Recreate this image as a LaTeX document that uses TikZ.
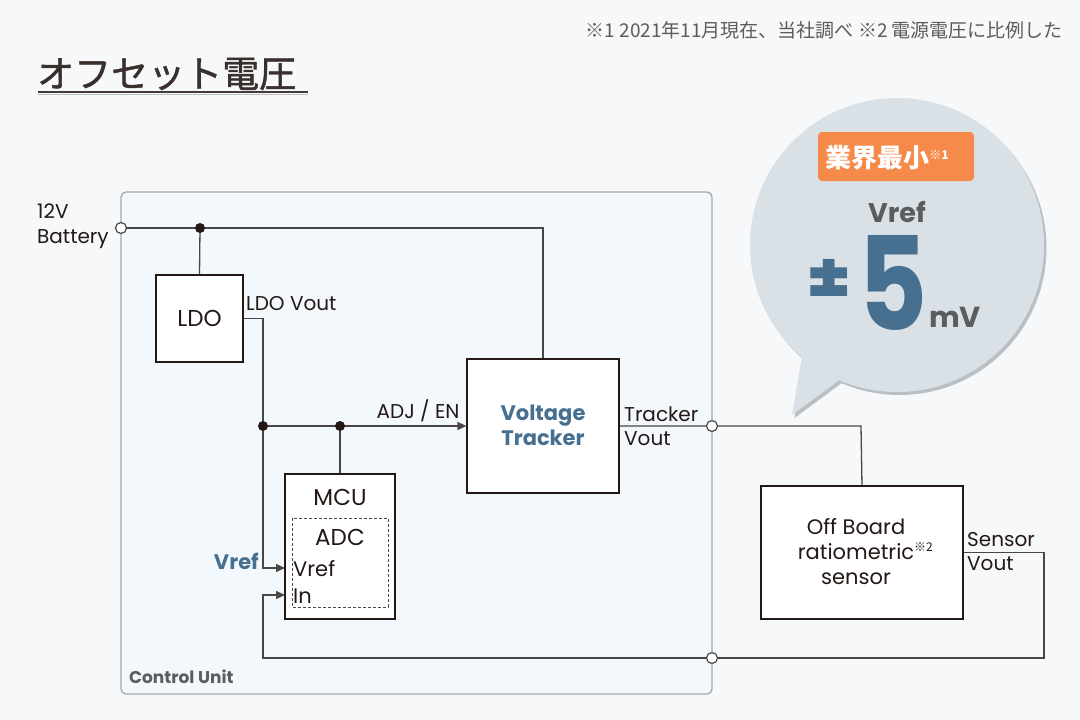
\documentclass[tikz,border=0pt]{standalone}
\usepackage{fontspec}
\setmainfont{Poppins}
\newfontfamily\jp{Noto Sans CJK JP}
\newfontfamily\jpt[FakeBold=1.2]{Noto Sans CJK JP}
\usetikzlibrary{arrows.meta}
\definecolor{bgc}{HTML}{F7F8FA}
\definecolor{cufill}{HTML}{F3F8FC}
\definecolor{cuborder}{HTML}{A8A8A8}
\definecolor{wire}{HTML}{4A4646}
\definecolor{ink}{HTML}{231815}
\definecolor{accent}{HTML}{476F8F}
\definecolor{bubble}{HTML}{D9E0E6}
\definecolor{bshadow}{HTML}{B9BFC5}
\definecolor{orng}{HTML}{F58A4B}
\definecolor{greytxt}{HTML}{5C5C5C}
\tikzset{
  blockbox/.style={draw=ink, line width=1.2pt, fill=white, inner sep=0pt},
  wireline/.style={draw=wire, line width=1.3pt},
  arr/.style={wireline, -{Triangle[length=9pt,width=8pt]}},
  dotj/.style={circle, fill=ink, inner sep=0pt, minimum size=10pt},
  opent/.style={circle, draw=wire, line width=1.2pt, fill=white, inner sep=0pt, minimum size=11pt},
  lbl/.style={text=ink, inner sep=0pt, font=\fontsize{20}{22}\selectfont},
}
\begin{document}
\begin{tikzpicture}[x=1pt,y=-1pt]
\useasboundingbox[fill=bgc] (0,0) rectangle (1080,720);

% header
\node[anchor=east, inner sep=0pt, text=greytxt, font=\jp\fontsize{19}{22}\selectfont] (note) at (1063,30) {※1 2021年11月現在、当社調べ ※2 電源電圧に比例した};
\node[anchor=west, inner sep=0pt, text=ink!90, font=\jpt\fontsize{37}{40}\selectfont] (title) at (37,74) {オフセット電圧};
\draw[line width=2.5pt, ink!85] (38,92) -- (308,92);
\draw[line width=1pt, black!25] (38,94.5) -- (308,94.5);

% control unit
\draw[draw=cuborder, fill=cufill, line width=1.3pt, rounded corners=5pt] (121,192) rectangle (712,694);
\node[anchor=west, inner sep=0pt, text=greytxt, font=\bfseries\fontsize{17}{20}\selectfont] (cu) at (129,677) {Control Unit};

% speech bubble
\begin{scope}[shift={(2.5,3)}]
\fill[bshadow] (897,245) circle (147);
\fill[bshadow] (803,350) -- (792,415) -- (842,378) -- (850,320) -- cycle;
\end{scope}
\fill[bubble] (897,245) circle (147);
\fill[bubble] (803,350) -- (792,415) -- (842,378) -- (850,320) -- cycle;
\node[fill=orng, rounded corners=4pt, minimum width=156pt, minimum height=49pt, inner sep=0pt] (badge) at (896,156.5) {};
\node[text=white, inner sep=0pt, font=\jp\bfseries\fontsize{26}{28}\selectfont] (badgetxt) at (887,158) {業界最小\raisebox{8pt}{\fontsize{12}{12}\selectfont ※1}};
\node[text=greytxt, inner sep=0pt, font=\bfseries\fontsize{27}{30}\selectfont] (vrefbig) at (897,212) {Vref};
\node[text=accent, inner sep=0pt, font=\bfseries\fontsize{72}{72}\selectfont] (pm) at (829,282) {±};
\node[text=accent, inner sep=0pt, font=\bfseries\fontsize{130}{130}\selectfont, anchor=base] (five) at (893,330) {\scalebox{0.82}[1]{5}};
\node[text=greytxt, inner sep=0pt, font=\bfseries\fontsize{29}{30}\selectfont, anchor=base west] (mv) at (929,327) {mV};

% blocks
\node[blockbox, minimum width=87pt, minimum height=87pt] (ldo) at (199.5,318.5) {};
\node[lbl, font=\fontsize{23}{24}\selectfont] (ldot) at (199.5,318) {LDO};
\node[blockbox, minimum width=152pt, minimum height=134pt] (vt) at (543,426) {};
\node[text=accent, inner sep=0pt, align=center, font=\bfseries\fontsize{21}{25}\selectfont] (vtt) at (543,425) {Voltage\\Tracker};
\node[blockbox, minimum width=110pt, minimum height=145pt] (mcu) at (340,546.5) {};
\node[lbl, font=\fontsize{23}{24}\selectfont] (mcut) at (340,497) {MCU};
\draw[draw=ink!80, line width=1pt, dash pattern=on 3pt off 2pt] (292,518) rectangle (388,607);
\node[lbl, font=\fontsize{23}{24}\selectfont] (adct) at (340,537) {ADC};
\node[lbl, anchor=west, font=\fontsize{21}{22}\selectfont] (vrefin) at (293,569) {Vref};
\node[lbl, anchor=west, font=\fontsize{21}{22}\selectfont] (inin) at (293,596) {In};
\node[blockbox, minimum width=202pt, minimum height=133pt] (sen) at (862,552.5) {};
\node[lbl, align=center, font=\fontsize{21}{25}\selectfont] (sent) at (856,552) {Off Board\\ratiometric\rlap{\raisebox{8pt}{\jp\fontsize{12}{12}\selectfont ※2}}\\sensor};

% labels
\node[lbl, align=left, anchor=west, font=\fontsize{20}{25}\selectfont] (bat) at (37,226) {12V\\Battery};
\node[lbl, anchor=west] (ldov) at (246,304) {LDO Vout};
\node[lbl, anchor=south] (adj) at (418,422) {ADJ / EN};
\node[lbl, anchor=west, align=left, font=\fontsize{20}{24}\selectfont] (tvl) at (624,426) {Tracker\\Vout};
\node[lbl, anchor=west, align=left, font=\fontsize{20}{24}\selectfont] (svl) at (967,552) {Sensor\\Vout};
\node[text=accent, inner sep=0pt, anchor=east, font=\bfseries\fontsize{21}{22}\selectfont] (vrefl) at (259,561) {Vref};

% coordinates
\coordinate (pbat) at (121,228);
\coordinate (j1) at (200,228);
\coordinate (c1) at (543,228);
\coordinate (c2) at (263,318.5);
\coordinate (j2) at (263,426);
\coordinate (j3) at (340,426);
\coordinate (pvref) at (285,568);
\coordinate (pin) at (285,595);
\coordinate (ptv) at (712,426);
\coordinate (c3) at (861,426);
\coordinate (c4) at (1044,552.5);
\coordinate (psv) at (712,658);
\coordinate (c5) at (263,658);

% wires
\draw[wireline] (pbat) -- (j1) -- (c1) -- (vt.north);
\draw[wireline] (j1) -- (ldo.north);
\draw[wireline] (ldo.east) -- (c2) -- (j2);
\draw[arr] (j2) |- (pvref);
\draw[arr] (j2) -- (vt.west);
\draw[wireline] (j3) -- (mcu.north);
\draw[wireline] (vt.east) -- (ptv) -- (c3) -- (sen.north);
\draw[wireline] (sen.east) -- (c4) |- (psv);
\draw[arr] (psv) -- (c5) |- (pin);

% terminals
\node[dotj] at (j1) {};
\node[dotj] at (j2) {};
\node[dotj] at (j3) {};
\node[opent] at (pbat) {};
\node[opent] at (ptv) {};
\node[opent] at (psv) {};
\end{tikzpicture}
\end{document}
